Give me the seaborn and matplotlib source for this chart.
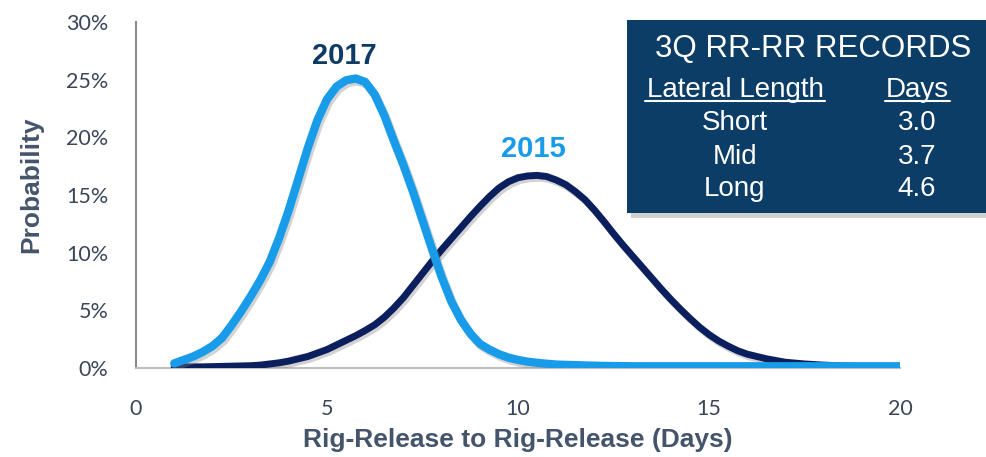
import numpy as np
import pandas as pd
import matplotlib
matplotlib.use("Agg")
import matplotlib.pyplot as plt
import matplotlib.patheffects as pe
from matplotlib.patches import Rectangle
from matplotlib.lines import Line2D
from matplotlib.ticker import PercentFormatter
import seaborn as sns

# ---- data ----
days = [1.0, 1.25, 1.5, 1.75, 2.0, 2.25, 2.5, 2.75, 3.0, 3.25, 3.5, 3.75,
        4.0, 4.25, 4.5, 4.75, 5.0, 5.25, 5.5, 5.75, 6.0, 6.25, 6.5, 6.75,
        7.0, 7.25, 7.5, 7.75, 8.0, 8.25, 8.5, 8.75, 9.0, 9.25, 9.5, 9.75,
        10.0, 10.25, 10.5, 10.75, 11.0, 11.25, 11.5, 11.75, 12.0, 12.25, 12.5, 12.75,
        13.0, 13.25, 13.5, 13.75, 14.0, 14.25, 14.5, 14.75, 15.0, 15.25, 15.5, 15.75,
        16.0, 16.5, 17.0, 17.5, 18.0, 18.5, 19.0, 19.5, 20.0]
prob_2017 = [0.4, 0.7, 1.0, 1.4, 1.9, 2.6, 3.7, 4.9, 6.2, 7.6, 9.2, 11.3,
             13.7, 16.4, 19.1, 21.5, 23.3, 24.4, 24.95, 25.1, 24.8, 23.7, 21.9, 19.7,
             17.6, 15.3, 12.8, 10.3, 7.9, 5.8, 4.2, 3.0, 2.1, 1.6, 1.2, 0.9,
             0.7, 0.55, 0.45, 0.37, 0.3, 0.27, 0.25, 0.22, 0.2, 0.18, 0.17, 0.16,
             0.15, 0.15, 0.15, 0.15, 0.15, 0.15, 0.15, 0.15, 0.15, 0.15, 0.15, 0.15,
             0.15, 0.15, 0.15, 0.15, 0.15, 0.15, 0.15, 0.15, 0.15]
prob_2015 = [0.1, 0.1, 0.1, 0.1, 0.12, 0.14, 0.16, 0.18, 0.2, 0.25, 0.35, 0.45,
             0.6, 0.8, 1.0, 1.3, 1.6, 2.0, 2.4, 2.8, 3.25, 3.75, 4.4, 5.2,
             6.1, 7.15, 8.2, 9.25, 10.25, 11.2, 12.15, 13.1, 14.0, 14.85, 15.6, 16.15,
             16.5, 16.65, 16.7, 16.6, 16.3, 15.9, 15.3, 14.6, 13.7, 12.7, 11.65, 10.65,
             9.7, 8.75, 7.8, 6.85, 5.95, 5.1, 4.3, 3.55, 2.9, 2.35, 1.9, 1.5,
             1.2, 0.8, 0.5, 0.35, 0.25, 0.18, 0.12, 0.1, 0.1]
x_ticks = [0, 5, 10, 15, 20]
y_ticks = [0, 5, 10, 15, 20, 25, 30]

table_title = "3Q RR-RR RECORDS"
table_headers = ["Lateral Length", "Days"]
lateral_lengths = ["Short", "Mid", "Long"]
record_days = ["3.0", "3.7", "4.6"]

df = pd.DataFrame({
    "Days": days * 2,
    "Probability": prob_2015 + prob_2017,
    "Year": ["2015"] * len(days) + ["2017"] * len(days),
})

# ---- style ----
sns.set_style("white")
plt.rcParams["font.family"] = ["Lato", "DejaVu Sans"]

W, H = 986, 457
fig = plt.figure(figsize=(W / 100, H / 100), dpi=100)
ax = fig.add_axes([136 / W, 1 - 368 / H, (900 - 136) / W, (368 - 22) / H])

NAVY = "#0b1f5e"
LIGHT = "#189ce9"
shadow = [pe.SimpleLineShadow(offset=(1.5, -2), shadow_color="#7f7f7f", alpha=0.35), pe.Normal()]

sns.lineplot(data=df[df["Year"] == "2015"], x="Days", y="Probability", color=NAVY,
             linewidth=5, ax=ax, solid_capstyle="round", solid_joinstyle="round",
             path_effects=shadow, zorder=3)
sns.lineplot(data=df[df["Year"] == "2017"], x="Days", y="Probability", color=LIGHT,
             linewidth=6, ax=ax, solid_capstyle="round", solid_joinstyle="round",
             path_effects=shadow, zorder=4)

ax.set_xlim(0, 20)
ax.set_ylim(0, 30)
ax.set_xticks(x_ticks)
ax.set_yticks(y_ticks)
ax.yaxis.set_major_formatter(PercentFormatter(decimals=0))
TICKC = "#3a4658"
ax.tick_params(axis="both", length=0, labelsize=15.5, colors=TICKC)
ax.tick_params(axis="y", pad=20)
ax.tick_params(axis="x", pad=22)

for s in ["top", "right"]:
    ax.spines[s].set_visible(False)
ax.spines["left"].set_color("#8a8a8a")
ax.spines["left"].set_linewidth(1.5)
ax.spines["bottom"].set_color("#bdbdbd")
ax.spines["bottom"].set_linewidth(1.5)

LABC = "#44546a"
ax.set_xlabel("Rig-Release to Rig-Release (Days)", fontsize=19, fontweight="bold",
              color=LABC, family=["Liberation Sans"])
ax.set_ylabel("Probability", fontsize=19, fontweight="bold", color=LABC,
              family=["Liberation Sans"])
ax.xaxis.set_label_coords(0.5, -0.172)
ax.yaxis.set_label_coords(-0.122, 0.53)

ax.text(5.45, 25.8, "2017", color="#0d3b66", fontsize=21, fontweight="bold",
        family=["Liberation Sans"], ha="center", va="bottom")
ax.text(10.4, 17.8, "2015", color=LIGHT, fontsize=21, fontweight="bold",
        family=["Liberation Sans"], ha="center", va="bottom")

# ---- records table box ----
def fx(px):
    return px / W

def fy(py):
    return 1 - py / H

bx0, by0, bx1, by1 = 627, 20, 990, 213
fig.patches.append(Rectangle((fx(bx0 + 4), fy(by1 + 5)), fx(bx1 - bx0), (by1 - by0) / H,
                             transform=fig.transFigure, facecolor="#000000", alpha=0.18,
                             edgecolor="none", zorder=5))
fig.patches.append(Rectangle((fx(bx0), fy(by1)), fx(bx1 - bx0), (by1 - by0) / H,
                             transform=fig.transFigure, facecolor="#0c3d66",
                             edgecolor="none", zorder=6))

tfam = ["Liberation Sans"]
fig.text(fx(813), fy(57), table_title, color="white", fontsize=22.5, family=tfam,
         ha="center", va="baseline", zorder=7)
col_x = [735, 917]
for cx, hdr in zip(col_x, table_headers):
    fig.text(fx(cx), fy(97), hdr, color="white", fontsize=20, family=tfam,
             ha="center", va="baseline", zorder=7)
fig.add_artist(Line2D([fx(645), fx(825)], [fy(100.5), fy(100.5)], color="white", lw=1.5, zorder=7))
fig.add_artist(Line2D([fx(885), fx(950)], [fy(100.5), fy(100.5)], color="white", lw=1.5, zorder=7))
for by, ll, dd in zip([130, 164, 196], lateral_lengths, record_days):
    fig.text(fx(col_x[0]), fy(by), ll, color="white", fontsize=20, family=tfam,
             ha="center", va="baseline", zorder=7)
    fig.text(fx(col_x[1]), fy(by), dd, color="white", fontsize=20, family=tfam,
             ha="center", va="baseline", zorder=7)

fig.savefig("out.png", dpi=100)
